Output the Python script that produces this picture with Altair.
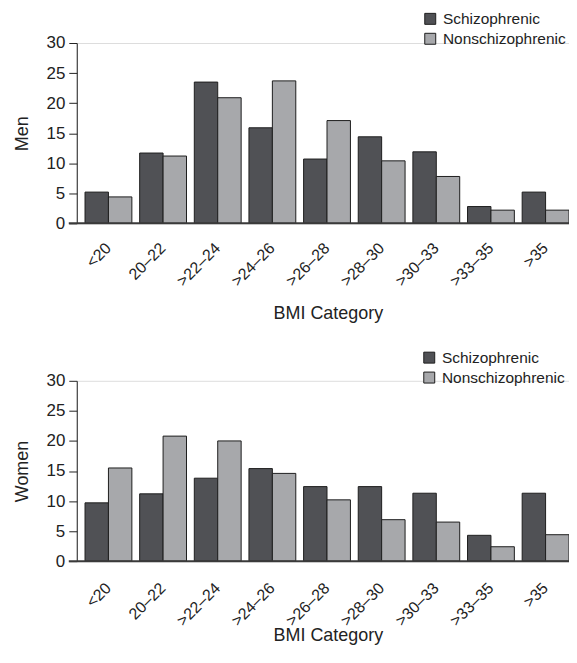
import altair as alt
import pandas as pd

categories = ["<20", "20–22", ">22–24", ">24–26", ">26–28", ">28–30", ">30–33", ">33–35", ">35"]
groups = ["Schizophrenic", "Nonschizophrenic"]
men_schizo = [5.2, 11.7, 23.5, 15.9, 10.7, 14.4, 11.9, 2.8, 5.2]
men_non = [4.4, 11.2, 20.9, 23.7, 17.1, 10.4, 7.8, 2.2, 2.2]
women_schizo = [9.7, 11.2, 13.8, 15.4, 12.4, 12.4, 11.3, 4.3, 11.3]
women_non = [15.5, 20.8, 20.0, 14.6, 10.2, 6.9, 6.5, 2.4, 4.4]
y_ticks = [0, 5, 10, 15, 20, 25, 30]
colors = ["#505155", "#a7a8ab"]

TXT = "#222222"
W = 494  # plot width; the last bar ends at the right edge
P_IN = 8 / 56
STEP = (W - 8.3) / (9 - P_IN)
P_OUT = (W / STEP - 9 + P_IN) / 2


def make_df(s, n):
    rows = []
    for c, a, b in zip(categories, s, n):
        rows.append({"cat": c, "group": groups[0], "value": a})
        rows.append({"cat": c, "group": groups[1], "value": b})
    return pd.DataFrame(rows)


def panel(df, ylabel, label_pad, title_y, legend_x, legend_y):
    bars = alt.Chart(df).mark_bar(stroke="#1e1e1e", strokeWidth=1).encode(
        x=alt.X(
            "cat:N",
            sort=categories,
            scale=alt.Scale(paddingInner=P_IN, paddingOuter=P_OUT, align=1),
            axis=alt.Axis(
                title="BMI Category",
                labelAngle=-45,
                labelAlign="right",
                labelBaseline="middle",
                labelPadding=label_pad,
                labelFontSize=16,
                labelColor=TXT,
                labelOverlap=False,
                ticks=False,
                domain=False,
                titleFontSize=18,
                titleFontWeight="normal",
                titleColor=TXT,
                titleX=252,
                titleY=title_y,
                titleBaseline="top",
                titleAlign="center",
            ),
        ),
        xOffset=alt.XOffset("group:N", sort=groups,
                            scale=alt.Scale(paddingInner=0, paddingOuter=0)),
        y=alt.Y(
            "value:Q",
            scale=alt.Scale(domain=[0, 30], nice=False),
            axis=alt.Axis(
                title=ylabel,
                values=y_ticks,
                tickCount=7,
                labelOverlap=False,
                grid=False,
                domainColor=TXT,
                domainWidth=1,
                tickColor=TXT,
                tickSize=8,
                labelFontSize=17,
                labelPadding=4,
                labelColor=TXT,
                titleFontSize=18,
                titleFontWeight="normal",
                titleColor=TXT,
                titleAngle=270,
                titleBaseline="bottom",
                titleAlign="center",
                titleX=-45,
                titleY=90.5,
            ),
        ),
        color=alt.Color(
            "group:N",
            sort=groups,
            scale=alt.Scale(domain=groups, range=colors),
            legend=alt.Legend(
                title=None,
                orient="none",
                legendX=legend_x,
                legendY=legend_y,
                symbolType="square",
                symbolSize=121,
                symbolStrokeColor="#1e1e1e",
                symbolStrokeWidth=1,
                symbolOpacity=1,
                labelFontSize=15.5,
                labelColor=TXT,
                labelOffset=5,
                rowPadding=3,
                padding=0,
            ),
        ),
    )
    base = alt.Chart(pd.DataFrame({"z": [0]})).mark_rule(
        color="#3a3a3a", strokeWidth=2
    ).encode(x=alt.value(-8), x2=alt.value(W), y=alt.datum(0))
    return alt.layer(bars, base).properties(width=W, height=181)


top = panel(make_df(men_schizo, men_non), "Men", 22, 81, 347, -32)
bottom = panel(make_df(women_schizo, women_non), "Women", 24, 66, 346, -31)

chart = (
    alt.vconcat(top, bottom, spacing=158, bounds="flush")
    .resolve_scale(color="independent")
    .resolve_legend(color="independent")
    .properties(padding={"left": 5, "top": 1, "right": -2, "bottom": 0})
    .configure_view(stroke=None)
    .configure(font="Liberation Sans")
)

chart.save("out.html", embed_options={"renderer": "svg", "actions": False})
